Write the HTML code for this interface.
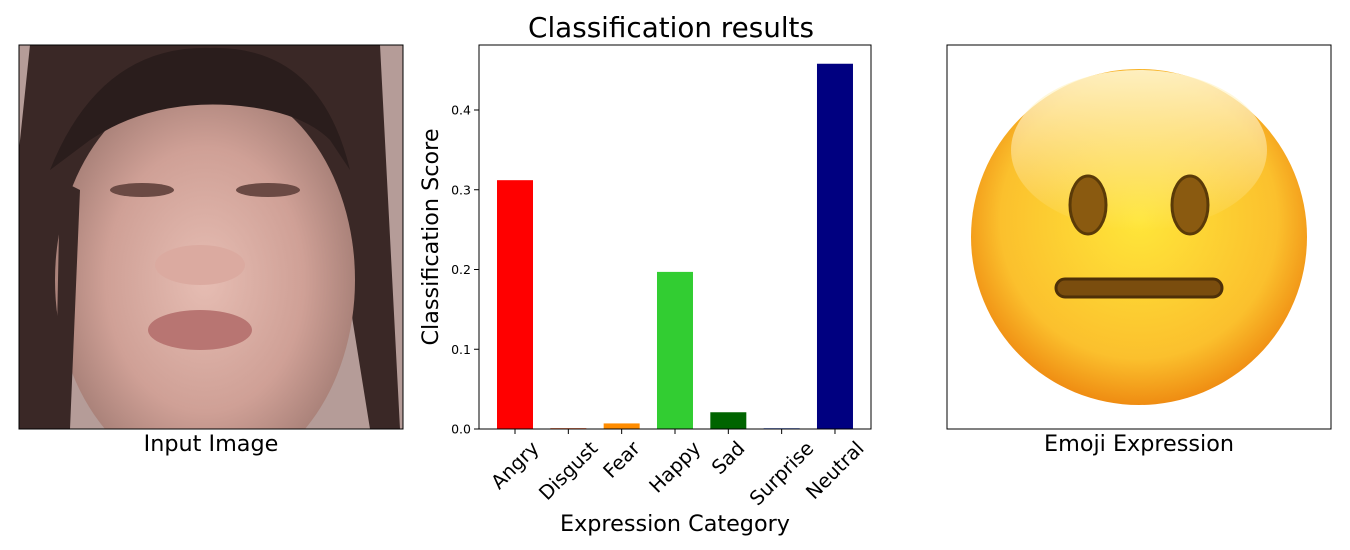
<!DOCTYPE html>
<html><head><meta charset="utf-8">
<style>
body{margin:0;background:#fff;width:1350px;height:550px;overflow:hidden;font-family:"DejaVu Sans","Liberation Sans",sans-serif;}
svg{display:block}
</style></head><body>
<svg width="1350" height="550" font-family="DejaVu Sans, Liberation Sans, sans-serif">
<defs>
<clipPath id="imgclip"><rect x="19" y="45" width="384" height="384"/></clipPath>
<radialGradient id="skin" cx="50%" cy="50%" r="55%">
<stop offset="0" stop-color="#e6bdb3"/><stop offset="0.6" stop-color="#cfa096"/><stop offset="1" stop-color="#a07a72"/>
</radialGradient>
<radialGradient id="emo" cx="50%" cy="45%" r="55%">
<stop offset="0" stop-color="#ffe63a"/><stop offset="0.75" stop-color="#fbc02d"/><stop offset="1" stop-color="#ef8c12"/>
</radialGradient>
<linearGradient id="shine" x1="0" y1="0" x2="0" y2="1">
<stop offset="0" stop-color="#fff6d0" stop-opacity="0.9"/><stop offset="1" stop-color="#fff6d0" stop-opacity="0"/>
</linearGradient>
</defs>
<g clip-path="url(#imgclip)">
<rect x="19" y="45" width="384" height="384" fill="#b59c98"/>
<path d="M30 45 H380 L400 429 H370 L330 180 H90 L60 429 H19 V150 Z" fill="#3a2826"/>
<ellipse cx="205" cy="280" rx="150" ry="200" fill="url(#skin)"/>
<path d="M50 170 Q100 45 210 48 Q320 45 350 170 L330 140 Q300 110 230 105 Q150 100 90 140 Z" fill="#2a1d1c"/>
<path d="M80 190 L70 429 L55 429 L60 180 Z" fill="#3a2826"/>
<ellipse cx="142" cy="190" rx="32" ry="7" fill="#6b4a44"/>
<ellipse cx="268" cy="190" rx="32" ry="7" fill="#6b4a44"/>
<ellipse cx="200" cy="265" rx="45" ry="20" fill="#dbaaa0"/>
<ellipse cx="200" cy="330" rx="52" ry="20" fill="#b87572"/>
</g>
<rect x="19" y="45" width="384" height="384" fill="none" stroke="#000" stroke-width="1"/>
<text x="211" y="451" font-size="22.3" text-anchor="middle">Input Image</text>
<text x="671" y="37" font-size="27.8" text-anchor="middle">Classification results</text>
<g id="chart"></g>
<text x="675" y="531" font-size="22.3" text-anchor="middle">Expression Category</text>
<text transform="translate(438,237) rotate(-90)" font-size="22.3" text-anchor="middle">Classification Score</text>
<g>
<rect x="947" y="45" width="384" height="384" fill="#fff" stroke="#000" stroke-width="1"/>
<circle cx="1139" cy="237" r="168" fill="url(#emo)"/>
<ellipse cx="1139" cy="150" rx="128" ry="80" fill="url(#shine)"/>
<ellipse cx="1088" cy="205" rx="18" ry="29" fill="#8a5a10" stroke="#5a3a08" stroke-width="3"/>
<ellipse cx="1190" cy="205" rx="18" ry="29" fill="#8a5a10" stroke="#5a3a08" stroke-width="3"/>
<rect x="1056" y="279" width="166" height="18" rx="9" fill="#7a4d0e" stroke="#4e3008" stroke-width="3"/>
</g>
<text x="1139" y="451" font-size="22.3" text-anchor="middle">Emoji Expression</text>
</svg>
<script>
const categories=["Angry","Disgust","Fear","Happy","Sad","Surprise","Neutral"];
const scores=[0.312,0.001,0.007,0.197,0.021,0.001,0.458];
const colors=["#ff0000","#ff4500","#ff8c00","#32cd32","#006400","#4169e1","#000080"];
const yTicks=[0,0.1,0.2,0.3,0.4];
const yTickLabels=["0.0","0.1","0.2","0.3","0.4"];
const NS="http://www.w3.org/2000/svg";
const g=document.getElementById('chart');
const L=479,R=871,T=45,B=429;
const xs=i=>515+i*53.33;
const ys=v=>B-v*797.5;
function mk(t,a){const e=document.createElementNS(NS,t);for(const k in a)e.setAttribute(k,a[k]);g.appendChild(e);return e;}
categories.forEach((c,i)=>{
 const r=mk('rect',{x:xs(i)-18,y:ys(scores[i]),width:36,height:B-ys(scores[i]),fill:colors[i]});
 
 
 const tk=mk('line',{x1:xs(i),x2:xs(i),y1:B,y2:B+5,stroke:'#000'});
 
 
 const t=mk('text',{'font-size':19.5,'text-anchor':'middle','dominant-baseline':'central'});
 t.textContent=c;
 
 
 const w=t.getComputedTextLength();
 const half=(w+19.5)*0.7071/2;
 const cy=B+9+half;
 t.setAttribute('transform',`translate(${xs(i)},${cy}) rotate(-45)`);
});
yTicks.forEach((v,i)=>{
 const tk=mk('line',{x1:L-5,x2:L,y1:ys(v),y2:ys(v),stroke:'#000'});
 
 
 const t=mk('text',{x:L-8,y:ys(v)+4.5,'font-size':12.5,'text-anchor':'end'});
 t.textContent=yTickLabels[i];
 
 
});
const fr=mk('rect',{x:L,y:T,width:R-L,height:B-T,fill:'none',stroke:'#000'});


</script>
</body></html>
